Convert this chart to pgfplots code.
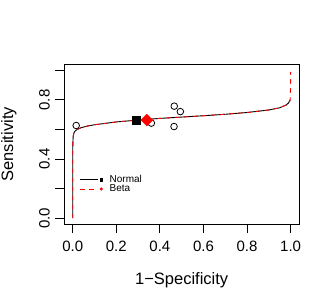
\documentclass[border=0pt]{standalone}
\usepackage{pgfplots}
\pgfplotsset{compat=1.18}
\usepackage{fontspec}
\setmainfont{Liberation Sans}
\begin{document}
\begin{tikzpicture}[font=\fontsize{15}{18}\selectfont]
\begin{axis}[
  scale only axis, width=235.3pt, height=159.5pt,
  xmin=-0.04, xmax=1.04, ymin=-0.04, ymax=1.04,
  axis line style={line width=0.9pt},
  tick align=outside, major tick length=9pt,
  tick style={black, line width=0.9pt},
  tick pos=left,
  xtick={0,0.2,0.4,0.6,0.8,1.0}, ytick={0,0.2,0.4,0.6,0.8,1.0},
  xticklabels={0.0,0.2,0.4,0.6,0.8,1.0},
  yticklabels={0.0,,0.4,,0.8,},
  yticklabel style={rotate=90, anchor=south},
  xticklabel shift=4.4pt, yticklabel shift=1.7pt,
  xlabel={1−Specificity}, ylabel={Sensitivity},
  every axis x label/.style={at={(axis description cs:0.5,-0.355)}, anchor=center, font=\fontsize{16.5}{20}\selectfont},
  every axis y label/.style={at={(axis description cs:-0.234,0.5)}, anchor=center, rotate=90, font=\fontsize{16.5}{20}\selectfont},
  legend style={at={(axis cs:0.031,0.29)}, anchor=north west, draw=none, fill=none, inner sep=0pt,
    font=\fontsize{10}{10}\selectfont, row sep=0.6pt, nodes={inner sep=0pt},
    /tikz/every odd column/.style={column sep=7pt}},
  legend cell align=left,
]
\addplot[black, line width=0.9pt, forget plot] coordinates {
(0,0) (0.00000001,0.235) (0.000001,0.333) (0.0001,0.449) (0.0005,0.50) (0.002,0.55)
(0.005,0.575) (0.01,0.588) (0.02,0.600) (0.04,0.613) (0.07,0.624) (0.1,0.632)
(0.2,0.651) (0.3,0.664) (0.4,0.675) (0.5,0.684) (0.6,0.693) (0.7,0.703) (0.8,0.715)
(0.9,0.732) (0.95,0.747) (0.98,0.766) (0.99,0.779) (0.995,0.791) (0.998,0.80)
};
\addplot[red, line width=0.9pt, dash pattern=on 4.5pt off 4.5pt, forget plot] coordinates {
(0,0) (0.00000001,0.235) (0.000001,0.333) (0.0001,0.449) (0.0005,0.50) (0.002,0.55)
(0.005,0.575) (0.01,0.588) (0.02,0.600) (0.04,0.613) (0.07,0.624) (0.1,0.632)
(0.2,0.651) (0.3,0.664) (0.4,0.675) (0.5,0.684) (0.6,0.693) (0.7,0.703) (0.8,0.715)
(0.9,0.732) (0.95,0.747) (0.98,0.766) (0.99,0.779) (0.995,0.791) (0.998,0.80)
(0.999,0.83) (0.9995,0.87) (0.9999,0.93) (1,0.99)
};
\addplot[only marks, mark=o, mark size=3.3pt, black, mark options={line width=0.8pt}, forget plot] coordinates {
(0.016,0.627) (0.361,0.643) (0.466,0.758) (0.494,0.721) (0.465,0.620)
};
\addplot[only marks, mark=square*, mark size=4pt, black, forget plot] coordinates {(0.292,0.664)};
\addplot[only marks, mark=square*, mark size=4.2pt, red, mark options={rotate=45}, forget plot] coordinates {(0.340,0.664)};
\addlegendimage{legend image code/.code={\draw[black, line width=0.9pt] (0pt,0pt) -- (18pt,0pt); \fill[black] (19.8pt,-1.3pt) rectangle (22.4pt,1.3pt);}}
\addlegendentry{Normal}
\addlegendimage{legend image code/.code={\draw[red, line width=0.9pt, dash pattern=on 4.5pt off 4.5pt] (0pt,0pt) -- (18pt,0pt); \fill[red] (21.1pt,0pt) circle (1.3pt);}}
\addlegendentry{Beta}
\end{axis}
\pgfresetboundingbox
\path[use as bounding box] (-64pt,-81pt) rectangle (268pt,224pt);
\end{tikzpicture}
\end{document}
